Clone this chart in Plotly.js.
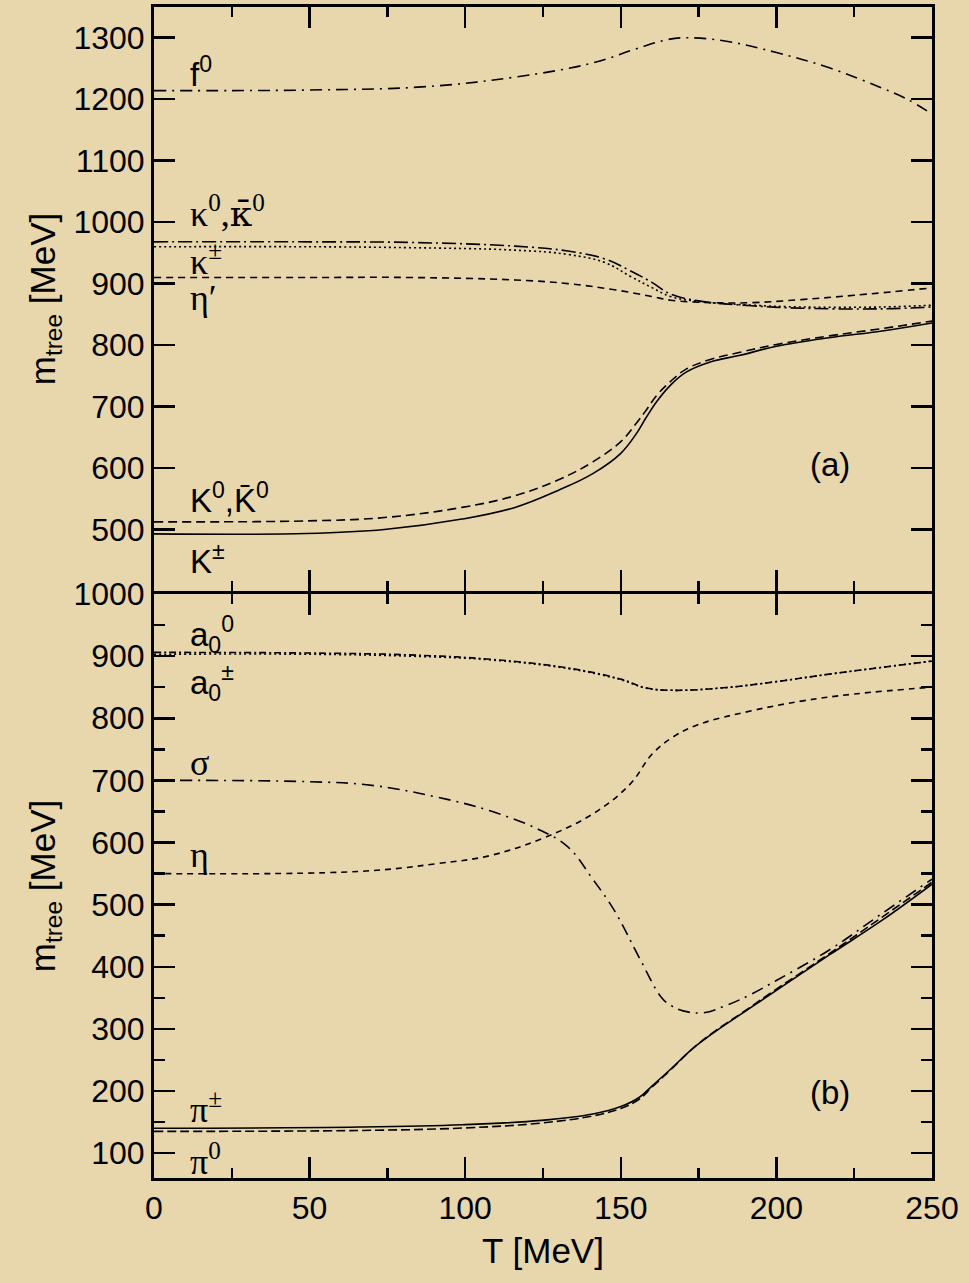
<!DOCTYPE html>
<html>
<head>
<meta charset="utf-8">
<script src="https://cdn.plot.ly/plotly-3.0.1.min.js"></script>
<style>html,body{margin:0;padding:0;background:#E8D7AC;}#chart{width:969px;height:1283px;}</style>
</head>
<body>
<div id="chart"></div>
<script>
// ---- Panel (a) data ----
var T_f0 = [0, 25, 50, 86, 116, 141, 155, 165, 171, 183, 200, 217, 234, 242, 250];
var m_f0 = [1214, 1214, 1215, 1220, 1236, 1259, 1282, 1297, 1300, 1295, 1276, 1251, 1218, 1200, 1176];

var T_kap = [0, 50, 82, 116, 133, 145, 153, 160, 166, 175, 192, 208, 234, 250];
var m_kap0 = [968, 968, 967, 961, 953, 940, 921, 902, 883, 872, 864, 860, 859, 862];
var m_kapc = [960, 960, 958.5, 954.5, 947.5, 934, 912, 893.5, 879, 871, 865, 862, 862, 865];

var T_etap = [0, 50, 82, 116, 133, 148, 160, 166, 180, 192, 208, 225, 250];
var m_etap = [910, 910, 910, 906, 900, 890, 879, 873, 869, 869, 874, 881, 893];

var T_K = [0, 49, 74, 99, 116, 130, 141, 150, 155, 158, 161.5, 166, 171, 179, 188, 200, 217, 234, 250];
var m_Kc = [493, 493.5, 500, 517, 536, 564, 591, 624, 656, 681, 708, 735, 756, 773, 783, 798, 812, 823, 836];
var m_K0 = [512.5, 514, 519.5, 536, 555, 581, 610, 643, 673, 693, 718, 741, 761, 777, 788, 801, 815, 827, 839];

// ---- Panel (b) data ----
var T_a0 = [0, 50, 82, 108, 133, 150, 158, 166.5, 183, 200, 217, 234, 250];
var m_a00 = [906, 905, 902, 895, 881, 863, 849, 845, 849, 859, 871, 882, 892];
var m_a0c = [903, 903, 900, 894, 880, 862, 848.5, 845, 849, 859, 871, 882, 892];

var T_sig = [0, 49, 70, 91, 108, 124.5, 133, 141, 148, 156, 163, 166, 170, 176.6, 184, 192, 200, 217, 234, 250];
var m_sig = [700, 698, 692, 673, 651, 619, 593, 541, 490, 414, 351, 338, 329, 326, 338, 356, 378, 427, 486, 541];

var T_eta = [0, 66, 91, 108, 124.5, 141, 153, 160, 166.5, 175, 192, 208.5, 225, 250];
var m_eta = [550, 553.5, 566, 579, 606, 646, 694, 742, 769, 790, 812, 828, 839, 850];

var T_pi = [0, 66, 99, 124.5, 141, 150, 156, 160, 166, 173, 181, 189, 200, 217, 234, 250];
var m_pic = [140, 142, 145.7, 152.7, 163, 175, 190, 208, 235, 268, 298, 325, 362, 419, 475, 533];
var m_pi0 = [135, 136.5, 140.4, 148.5, 160, 172, 187, 206, 234, 268, 299, 326, 364, 421, 480, 536];

var yTicksA = [500, 600, 700, 800, 900, 1000, 1100, 1200, 1300];
var yTicksB = [100, 200, 300, 400, 500, 600, 700, 800, 900, 1000];
var yMinorB = [50, 150, 250, 350, 450, 550, 650, 750, 850, 950];
var xTicks = [0, 50, 100, 150, 200, 250];
var xMinor = [25, 75, 125, 175, 225];

var BG = '#E8D7AC';
var LW = 1.6;

function tr(x, y, yax, dash) {
  return {x: x, y: y, xaxis: yax === 'y' ? 'x2' : 'x', yaxis: yax, type: 'scatter', mode: 'lines',
    line: {color: '#000', width: LW, dash: dash, shape: 'spline', smoothing: 1.1}, hoverinfo: 'skip'};
}

var data = [
  tr(T_f0, m_f0, 'y', '12px,6px,2px,6px'),
  tr(T_kap, m_kap0, 'y', '14px,4px,2px,4px'),
  tr(T_kap, m_kapc, 'y', '2px,3px'),
  tr(T_etap, m_etap, 'y', '7px,5px'),
  tr(T_K, m_K0, 'y', '9px,5px'),
  tr(T_K, m_Kc, 'y', 'solid'),
  tr(T_a0, m_a00, 'y2', '7px,3px,2px,3px'),
  tr(T_a0, m_a0c, 'y2', '2px,3px'),
  tr(T_sig, m_sig, 'y2', '12px,6px,2px,6px'),
  tr(T_eta, m_eta, 'y2', '6px,5px'),
  tr(T_pi, m_pi0, 'y2', '9px,4px'),
  tr(T_pi, m_pic, 'y2', 'solid')
];

var tickFont = {family: 'Liberation Sans, Arial, sans-serif', size: 32, color: '#000'};
var titleFont = {family: 'Liberation Sans, Arial, sans-serif', size: 35, color: '#000'};
var latin = {family: 'Liberation Sans Narrow, Arial Narrow, Liberation Sans, sans-serif', size: 33, color: '#000'};
var greek = {family: 'Liberation Serif, Times New Roman, serif', size: 36, color: '#000'};

function ann(text, x, y, yref, font) {
  return {text: text, x: x, y: y, xref: 'x', yref: yref, showarrow: false,
    xanchor: 'left', yanchor: 'middle', font: font};
}

var annotations = [
  ann('f<sup>0</sup>', 11, 1245, 'y', latin),
  ann('κ<sup>0</sup>,<span style="font-family:DejaVu Serif">κ\u0304</span><sup>0</sup>', 11, 1018, 'y', greek),
  ann('κ<sup>±</sup>', 11, 940, 'y', greek),
  ann('η′', 11, 876, 'y', greek),
  ann('K<sup>0</sup>,K̄<sup>0</sup>', 11, 552, 'y', latin),
  ann('K<sup>±</sup>', 11, 452, 'y', latin),
  ann('(a)', 210, 606, 'y', latin),
  ann('a<sub>0</sub><sup>0</sup>', 11, 935, 'y2', latin),
  ann('a<sub>0</sub><sup>±</sup>', 11, 858, 'y2', latin),
  ann('σ', 11, 728, 'y2', greek),
  ann('η', 11, 580, 'y2', greek),
  ann('π<sup>±</sup>', 11, 174, 'y2', greek),
  ann('π<sup>0</sup>', 11, 90, 'y2', greek),
  ann('(b)', 210, 197, 'y2', latin)
];

var xCommon = {range: [0, 250], tickvals: xTicks, ticks: 'inside', ticklen: 21, tickwidth: 2.5,
  tickcolor: '#000', showline: true, linecolor: '#000', linewidth: 3, mirror: 'allticks',
  showgrid: false, zeroline: false,
  minor: {tickvals: xMinor, ticks: 'inside', ticklen: 10, tickwidth: 2.5, tickcolor: '#000', showgrid: false}};

var gap = 1.5 / 1171;
var ySuffix = '\u2009\u2009\u200B';

var layout = {
  width: 969, height: 1283,
  margin: {l: 154, r: 37, t: 7, b: 105},
  paper_bgcolor: BG, plot_bgcolor: BG,
  showlegend: false,
  xaxis: Object.assign({}, xCommon, {anchor: 'y2', tickfont: tickFont,
    title: {text: 'T [MeV]', font: titleFont, standoff: 14}}),
  xaxis2: Object.assign({}, xCommon, {anchor: 'y', matches: 'x', showticklabels: false}),
  yaxis: {domain: [0.5 + gap, 1], range: [400, 1350], anchor: 'x2', tickvals: yTicksA, ticks: 'inside', ticklen: 21,
    tickwidth: 2.5, tickcolor: '#000', showline: true, linecolor: '#000', linewidth: 3, mirror: 'allticks',
    showgrid: false, zeroline: false, tickfont: tickFont, ticksuffix: ySuffix,
    title: {text: 'm<sub>tree</sub> [MeV]', font: titleFont, standoff: 8}},
  yaxis2: {domain: [0, 0.5 - gap], range: [60, 1000], anchor: 'x', tickvals: yTicksB, ticks: 'inside', ticklen: 21,
    tickwidth: 2.5, tickcolor: '#000', showline: true, linecolor: '#000', linewidth: 3, mirror: 'allticks',
    showgrid: false, zeroline: false, tickfont: tickFont, ticksuffix: ySuffix,
    minor: {tickvals: yMinorB, ticks: 'inside', ticklen: 11, tickwidth: 2.5, tickcolor: '#000', showgrid: false},
    title: {text: 'm<sub>tree</sub> [MeV]', font: titleFont, standoff: 8}},
  annotations: annotations
};

Plotly.newPlot('chart', data, layout, {displayModeBar: false, staticPlot: true});
</script>
</body>
</html>
